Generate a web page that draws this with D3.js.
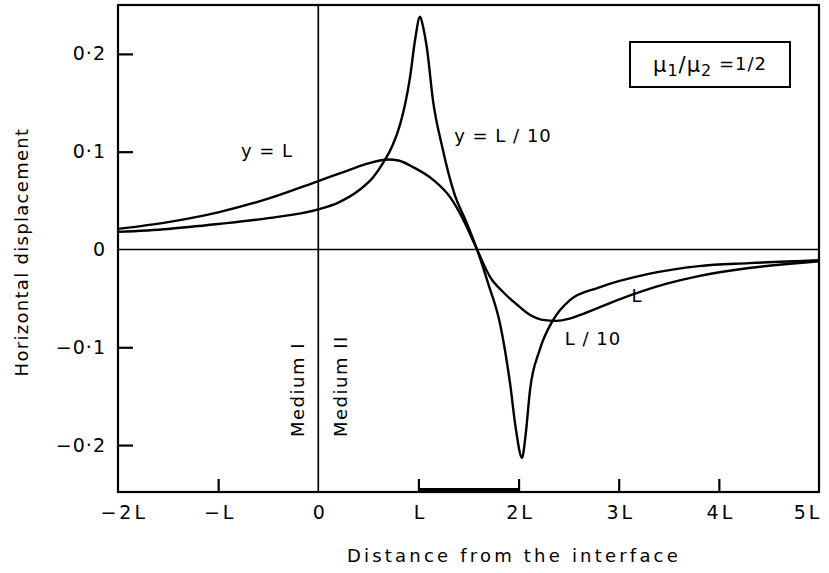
<!DOCTYPE html>
<html><head><meta charset="utf-8">
<script src="https://cdn.jsdelivr.net/npm/d3@7"></script>
<style>body{margin:0;background:#fff}svg{display:block}text{font-family:"DejaVu Sans",sans-serif;fill:#000}</style>
</head><body><svg id="c" width="829" height="573"></svg>
<script>
// data (x in units of L)
const xTickVals = [-2,-1,0,1,2,3,4,5];
const xTickLabels = ["\u22122L","\u2212L","0","L","2L","3L","4L","5L"];
const yTickVals = [0.2,0.1,0,-0.1,-0.2];
const yTickLabels = ["0\u00b72","0\u00b71","0","\u22120\u00b71","\u22120\u00b72"];
const xL10 = [-2,-1.5,-1,-0.5,0,0.2,0.4,0.55,0.65,0.74,0.82,0.87,0.916,0.966,1.016,1.05,1.086,1.146,1.235,1.365,1.47,1.585,1.7,1.815,1.915,1.975,2.034,2.07,2.114,2.21,2.34,2.51,2.8,3.3,3.8,4.3,5];
const yL10 = [0.018,0.021,0.026,0.032,0.041,0.048,0.060,0.074,0.089,0.106,0.129,0.150,0.176,0.214,0.238,0.226,0.205,0.152,0.106,0.055,0.030,0,-0.036,-0.076,-0.137,-0.185,-0.213,-0.19,-0.144,-0.103,-0.073,-0.052,-0.039,-0.025,-0.017,-0.014,-0.011];
const xL = [-2,-1.5,-1,-0.5,0,0.3,0.5,0.7,0.8,0.95,1.15,1.32,1.45,1.585,1.715,1.85,1.98,2.1,2.24,2.38,2.5,2.64,2.98,3.48,3.81,4.3,5];
const yL = [0.021,0.028,0.038,0.052,0.070,0.081,0.088,0.092,0.091,0.084,0.071,0.053,0.030,0,-0.028,-0.044,-0.056,-0.066,-0.072,-0.073,-0.071,-0.066,-0.052,-0.035,-0.027,-0.019,-0.012];
const barRange = [1,2];

const svg = d3.select("#c");
const x = d3.scaleLinear().domain([-2,5]).range([118,819]);
const y = d3.scaleLinear().domain([-0.248,0.25]).range([492,5]);
const fs = 18;

// frame
svg.append("rect").attr("x",x(-2)).attr("y",y(0.25)).attr("width",x(5)-x(-2)).attr("height",y(-0.248)-y(0.25))
  .attr("fill","none").attr("stroke","#000").attr("stroke-width",2.2);
// zero lines
svg.append("line").attr("x1",x(-2)).attr("x2",x(5)).attr("y1",y(0)).attr("y2",y(0)).attr("stroke","#000").attr("stroke-width",1.7);
svg.append("line").attr("x1",x(0)).attr("x2",x(0)).attr("y1",y(0.25)).attr("y2",y(-0.248)).attr("stroke","#000").attr("stroke-width",1.7);

// axes with inward ticks
const xAxis = d3.axisBottom(x).tickValues(xTickVals).tickSize(-13).tickPadding(20).tickFormat((d,i)=>xTickLabels[i]);
const gx = svg.append("g").attr("transform",`translate(0,${y(-0.248)})`).call(xAxis);
gx.select(".domain").remove();
gx.selectAll(".tick line").attr("stroke-width",2.2).filter(d=>d===-2||d===5||d===0).remove();
gx.selectAll("text").attr("font-size",fs+1).attr("dy","0.35em").attr("letter-spacing",3)
  .attr("dx",d=>d===5?"-0.6em":(d===-2?"0.3em":"0.08em"));
const yAxis = d3.axisLeft(y).tickValues(yTickVals).tickSize(-15).tickPadding(12).tickFormat((d,i)=>yTickLabels[i]);
const gy = svg.append("g").attr("transform",`translate(${x(-2)},0)`).call(yAxis);
gy.select(".domain").remove();
gy.selectAll(".tick line").attr("stroke-width",2.2).filter(d=>d===0).remove();
gy.selectAll("text").attr("font-size",fs+1).attr("letter-spacing",1);

// bar L..2L on bottom axis
svg.append("line").attr("x1",x(barRange[0])).attr("x2",x(barRange[1])).attr("y1",y(-0.248)-2).attr("y2",y(-0.248)-2)
  .attr("stroke","#000").attr("stroke-width",4);

// curves
const line = d3.line().x(d=>x(d[0])).y(d=>y(d[1])).curve(d3.curveMonotoneX);
svg.append("path").attr("d",line(d3.zip(xL10,yL10))).attr("fill","none").attr("stroke","#000").attr("stroke-width",2.4);
svg.append("path").attr("d",line(d3.zip(xL,yL))).attr("fill","none").attr("stroke","#000").attr("stroke-width",2.4);

// labels
const lab = (t,px,py,anchor)=>svg.append("text").attr("x",px).attr("y",py).attr("font-size",fs).attr("text-anchor",anchor||"middle").attr("letter-spacing",1).text(t);
lab("y = L",267,157);
lab("y = L / 10",503,142);
lab("L",637,302);
lab("L / 10",593,345);

// medium labels
svg.append("text").attr("transform",`translate(304,437) rotate(-90)`).attr("font-size",fs).attr("letter-spacing",1.5).text("Medium I");
svg.append("text").attr("transform",`translate(347,437) rotate(-90)`).attr("font-size",fs).attr("letter-spacing",1.5).text("Medium II");

// legend box
svg.append("rect").attr("x",630).attr("y",42).attr("width",160).attr("height",45).attr("fill","#fff").attr("stroke","#000").attr("stroke-width",2);
const t = svg.append("text").attr("x",710).attr("y",72).attr("font-size",21).attr("text-anchor","middle").attr("letter-spacing",1);
t.append("tspan").text("\u03bc");
t.append("tspan").attr("font-size",16).attr("dy",4).text("1");
t.append("tspan").attr("dy",-4).text("/\u03bc");
t.append("tspan").attr("font-size",16).attr("dy",4).text("2");
t.append("tspan").attr("dy",-6).attr("font-size",18).text(" =1/2");

// axis titles
lab("Distance from the interface",514,562).attr("letter-spacing",3.2);
svg.append("text").attr("transform",`translate(28,252) rotate(-90)`).attr("text-anchor","middle").attr("font-size",fs).attr("letter-spacing",1.3).text("Horizontal displacement");
</script></body></html>
